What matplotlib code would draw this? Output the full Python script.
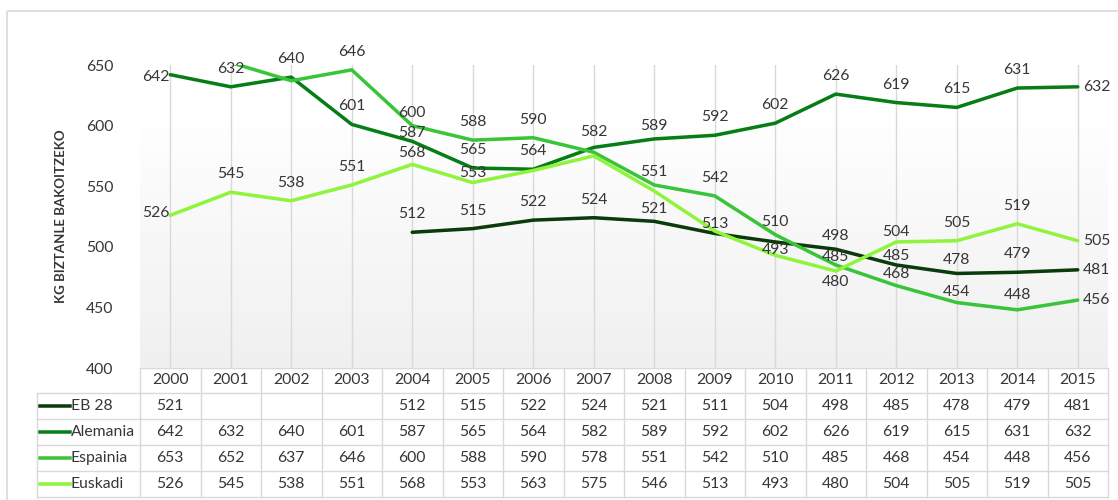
import numpy as np
import matplotlib
matplotlib.use("Agg")
import matplotlib.pyplot as plt
from matplotlib import transforms
from matplotlib.patches import Rectangle

plt.rcParams["font.family"] = ["Lato", "DejaVu Sans"]

# data
years = list(range(2000, 2016))
series = ["EB 28", "Alemania", "Espainia", "Euskadi"]
eb28 = [521, None, None, None, 512, 515, 522, 524, 521, 511, 504, 498, 485, 478, 479, 481]
alemania = [642, 632, 640, 601, 587, 565, 564, 582, 589, 592, 602, 626, 619, 615, 631, 632]
espainia = [653, 652, 637, 646, 600, 588, 590, 578, 551, 542, 510, 485, 468, 454, 448, 456]
euskadi = [526, 545, 538, 551, 568, 553, 563, 575, 546, 513, 493, 480, 504, 505, 519, 505]
values = [eb28, alemania, espainia, euskadi]
colors = ["#0b3b0b", "#067d17", "#3ac43a", "#8ef53c"]

yticks = [400, 450, 500, 550, 600, 650]
ylabel = "KG BIZTANLE BAKOITZEKO"

# labels excel did not draw (overlaps / outside plot)
hidden = {("EB 28", 2000), ("EB 28", 2009), ("EB 28", 2010),
          ("Espainia", 2000), ("Espainia", 2001), ("Espainia", 2002), ("Espainia", 2007),
          ("Euskadi", 2006), ("Euskadi", 2007), ("Euskadi", 2008)}
# label lift above the point in px (default 18)
lift = {("EB 28", 2008): 12, ("EB 28", 2011): 13, ("EB 28", 2012): 9, ("EB 28", 2013): 13,
        ("Alemania", 2004): 8, ("Alemania", 2007): 15, ("Alemania", 2008): 13,
        ("Espainia", 2004): 13, ("Espainia", 2008): 13, ("Espainia", 2010): 13,
        ("Espainia", 2011): 8, ("Espainia", 2012): 12, ("Espainia", 2013): 11,
        ("Espainia", 2014): 15,
        ("Euskadi", 2004): 11, ("Euskadi", 2005): 10, ("Euskadi", 2009): 7,
        ("Euskadi", 2010): 5, ("Euskadi", 2011): -11, ("Euskadi", 2012): 10}

TXT = "#363636"
GRID = "#d9d9d9"
W, H = 1118, 500
PT = 0.72  # points per pixel at dpi 100
FS = 11.3

fig = plt.figure(figsize=(W / 100, H / 100), dpi=100)

# overlay axes in pixel coordinates for frame + table
tax = fig.add_axes([0, 0, 1, 1], zorder=0)
tax.set_xlim(0, W)
tax.set_ylim(H, 0)
tax.axis("off")
tax.add_patch(Rectangle((7, 11), W, H, fill=False, ec=GRID, lw=1.2))

ax = fig.add_axes([140 / W, 1 - 368 / H, 968 / W, 303 / H], zorder=1)
x = np.arange(len(years))
ax.set_xlim(-0.5, len(years) - 0.5)
ax.set_ylim(400, 650)

# soft grey gradient behind the plot (white near the top)
grad = np.clip(np.linspace(0.94, 1.012, 256), 0, 1).reshape(-1, 1)
ax.imshow(np.dstack([grad, grad, grad]), extent=[-0.5, len(years) - 0.5, 400, 650],
          aspect="auto", origin="lower", zorder=0)

for s in ax.spines.values():
    s.set_visible(False)
ax.set_xticks(x)
ax.set_xticklabels([])
ax.tick_params(axis="both", length=0)
ax.grid(axis="x", color=GRID, lw=1)
ax.set_axisbelow(True)
ax.set_yticks(yticks)
ax.set_yticklabels([str(t) for t in yticks], fontsize=FS, color=TXT)
ax.tick_params(axis="y", pad=19)
ax.set_ylabel(ylabel, fontsize=9.5, fontweight="bold", color=TXT, labelpad=14)

for name, vals, c in zip(series, values, colors):
    v = np.array([np.nan if a is None else a for a in vals], dtype=float)
    ax.plot(x, v, color=c, lw=3.5 * PT, solid_capstyle="round", zorder=3)
    for i, (yr, val) in enumerate(zip(years, vals)):
        if val is None or (name, yr) in hidden:
            continue
        if i == 0:
            ax.annotate(str(val), (i, val), xytext=(-1 * PT, 2 * PT if name == "Euskadi" else -2 * PT),
                        textcoords="offset points", ha="right", va="center",
                        fontsize=FS, color=TXT, zorder=4)
        elif i == len(years) - 1:
            ax.annotate(str(val), (i, val), xytext=(5 * PT, 0),
                        textcoords="offset points", ha="left", va="center",
                        fontsize=FS, color=TXT, zorder=4, annotation_clip=False)
        else:
            dy = lift.get((name, yr), 18)
            ax.annotate(str(val), (i, val), xytext=(0, dy * PT),
                        textcoords="offset points", ha="center", va="center",
                        fontsize=FS, color=TXT, zorder=4)

# data table under the plot: x in data units, y in pixels
tr = transforms.blended_transform_factory(ax.transData, tax.transData)
rows = [368, 393, 419, 445, 471, 497]
x0, x1 = -0.5, len(years) - 0.5
for r in rows:
    tax.plot([x0, x1], [r, r], color=GRID, lw=1, transform=tr, clip_on=False)
for r in rows[1:]:
    tax.plot([37, 140], [r, r], color=GRID, lw=1, clip_on=False)
tax.plot([37, 37], [rows[1], rows[-1]], color=GRID, lw=1)
for k in range(len(years) + 1):
    tax.plot([k - 0.5, k - 0.5], [rows[0], rows[-1]], color=GRID, lw=1, transform=tr)

for i, yr in enumerate(years):
    tax.text(i, (rows[0] + rows[1]) / 2, str(yr), transform=tr, ha="center", va="center",
             fontsize=FS, color=TXT)
for j, (name, vals, c) in enumerate(zip(series, values, colors)):
    yc = (rows[j + 1] + rows[j + 2]) / 2
    tax.plot([40, 70], [yc, yc], color=c, lw=3.5 * PT)
    tax.text(71, yc, name, ha="left", va="center", fontsize=FS, color=TXT)
    for i, val in enumerate(vals):
        if val is not None:
            tax.text(i, yc, str(val), transform=tr, ha="center", va="center",
                     fontsize=FS, color=TXT)

fig.savefig("out.png", dpi=100)
